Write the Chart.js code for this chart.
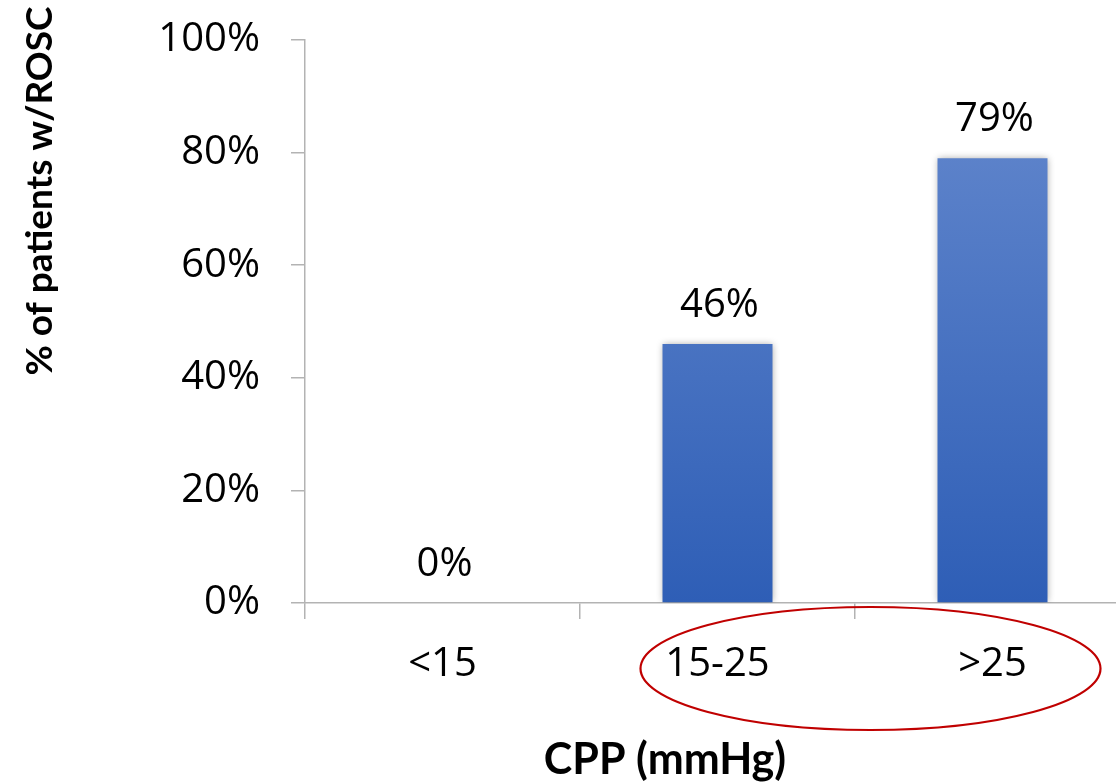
<!DOCTYPE html>
<html>
<head>
<meta charset="utf-8">
<script src="https://cdn.jsdelivr.net/npm/chart.js@4.4.1/dist/chart.umd.min.js"></script>
<style>
  html, body { margin: 0; padding: 0; background: #fff; overflow: hidden; }
  #wrap { width: 1116px; height: 783px; overflow: hidden; position: relative; }
  #wrap canvas { position: absolute; left: 0; top: 0; }
</style>
</head>
<body>
<div id="wrap"><canvas id="c" width="1140" height="783"></canvas></div>
<script>
// CPP bands and share of patients reaching ROSC in each band
const categories = ['<15', '15-25', '>25'];
const rosc = [0, 46, 79];
const yTicks = [0, 20, 40, 60, 80, 100];
const yTitle = '% of patients w/ROSC';
const xTitle = 'CPP (mmHg)';

const FONT = '"Open Sans", Lato, sans-serif';
const TITLE_FONT = 'Lato, "Open Sans", sans-serif';
const axisColor = '#b3b3b3';

// vertical blue gradient on the bars, lighter at the top
function barFill(ctx) {
  const chart = ctx.chart;
  const area = chart.chartArea;
  if (!area) return '#4472c4';
  const y = chart.scales.y;
  const g = chart.ctx.createLinearGradient(0, y.getPixelForValue(80), 0, area.bottom);
  g.addColorStop(0, '#5c82ca');
  g.addColorStop(1, '#2e5eb6');
  return g;
}

const barShadow = {
  id: 'barShadow',
  beforeDatasetsDraw(chart) {
    const c = chart.ctx;
    c.save();
    c.shadowColor = 'rgba(0,0,0,0.35)';
    c.shadowBlur = 7;
    c.shadowOffsetX = 0;
    c.shadowOffsetY = 0;
  },
  afterDatasetsDraw(chart) {
    chart.ctx.restore();
  }
};

// value labels above each bar
const valueLabels = {
  id: 'valueLabels',
  afterDatasetsDraw(chart) {
    const c = chart.ctx;
    const meta = chart.getDatasetMeta(0);
    c.save();
    c.font = '40px ' + FONT;
    c.fillStyle = '#000';
    c.textAlign = 'center';
    c.textBaseline = 'alphabetic';
    meta.data.forEach((bar, i) => {
      c.fillText(rosc[i] + '%', bar.x + 2, bar.y - 27);
    });
    c.restore();
  }
};

// axis titles and the red ring around the two upper CPP bands
const decorations = {
  id: 'decorations',
  afterDraw(chart) {
    const c = chart.ctx;
    const x = chart.scales.x;
    c.save();
    c.fillStyle = '#000';
    c.textAlign = 'center';
    c.textBaseline = 'alphabetic';
    c.font = 'bold 43px ' + TITLE_FONT;
    c.fillText(xTitle, 665, 774);

    c.font = 'bold 37px ' + TITLE_FONT;
    c.translate(40, 191);
    c.rotate(-Math.PI / 2);
    c.textBaseline = 'middle';
    c.fillText(yTitle, 0, 0);
    c.restore();

    const left = x.getPixelForValue(1) - 77;
    const right = x.getPixelForValue(2) + 108;
    const top = chart.chartArea.bottom + 4;
    const bottom = top + 123;
    c.save();
    c.strokeStyle = '#c00000';
    c.lineWidth = 2.2;
    c.beginPath();
    c.ellipse((left + right) / 2, (top + bottom) / 2, (right - left) / 2, (bottom - top) / 2, 0, 0, Math.PI * 2);
    c.stroke();
    c.restore();
  }
};

new Chart(document.getElementById('c'), {
  type: 'bar',
  data: {
    labels: categories,
    datasets: [{
      data: rosc,
      backgroundColor: barFill,
      borderWidth: 0,
      barPercentage: 0.4,
      categoryPercentage: 1.0
    }]
  },
  options: {
    responsive: false,
    animation: false,
    events: [],
    layout: { padding: { left: 0, right: 10, top: 40, bottom: 0 } },
    plugins: { legend: { display: false }, tooltip: { enabled: false }, title: { display: false } },
    scales: {
      x: {
        grid: {
          offset: true,
          drawOnChartArea: false,
          drawTicks: true,
          tickLength: 16,
          color: axisColor,
          lineWidth: 1.5
        },
        border: { display: true, color: axisColor, width: 1.5 },
        ticks: {
          color: '#000',
          font: { family: FONT, size: 40 },
          padding: 22,
          maxRotation: 0
        },
        afterFit(s) { s.height = 180; s.paddingLeft = 0; s.paddingRight = 0; }
      },
      y: {
        min: 0,
        max: 100,
        afterBuildTicks(s) { s.ticks = yTicks.map(v => ({ value: v })); },
        grid: {
          drawOnChartArea: false,
          drawTicks: true,
          tickLength: 14,
          color: axisColor,
          lineWidth: 1.5
        },
        border: { display: true, color: axisColor, width: 1.5 },
        ticks: {
          color: '#000',
          font: { family: FONT, size: 40 },
          padding: 31,
          callback: v => v + '%'
        },
        afterFit(s) { s.width = 305; s.paddingTop = 0; s.paddingBottom = 0; }
      }
    }
  },
  plugins: [barShadow, valueLabels, decorations]
});
</script>
</body>
</html>
